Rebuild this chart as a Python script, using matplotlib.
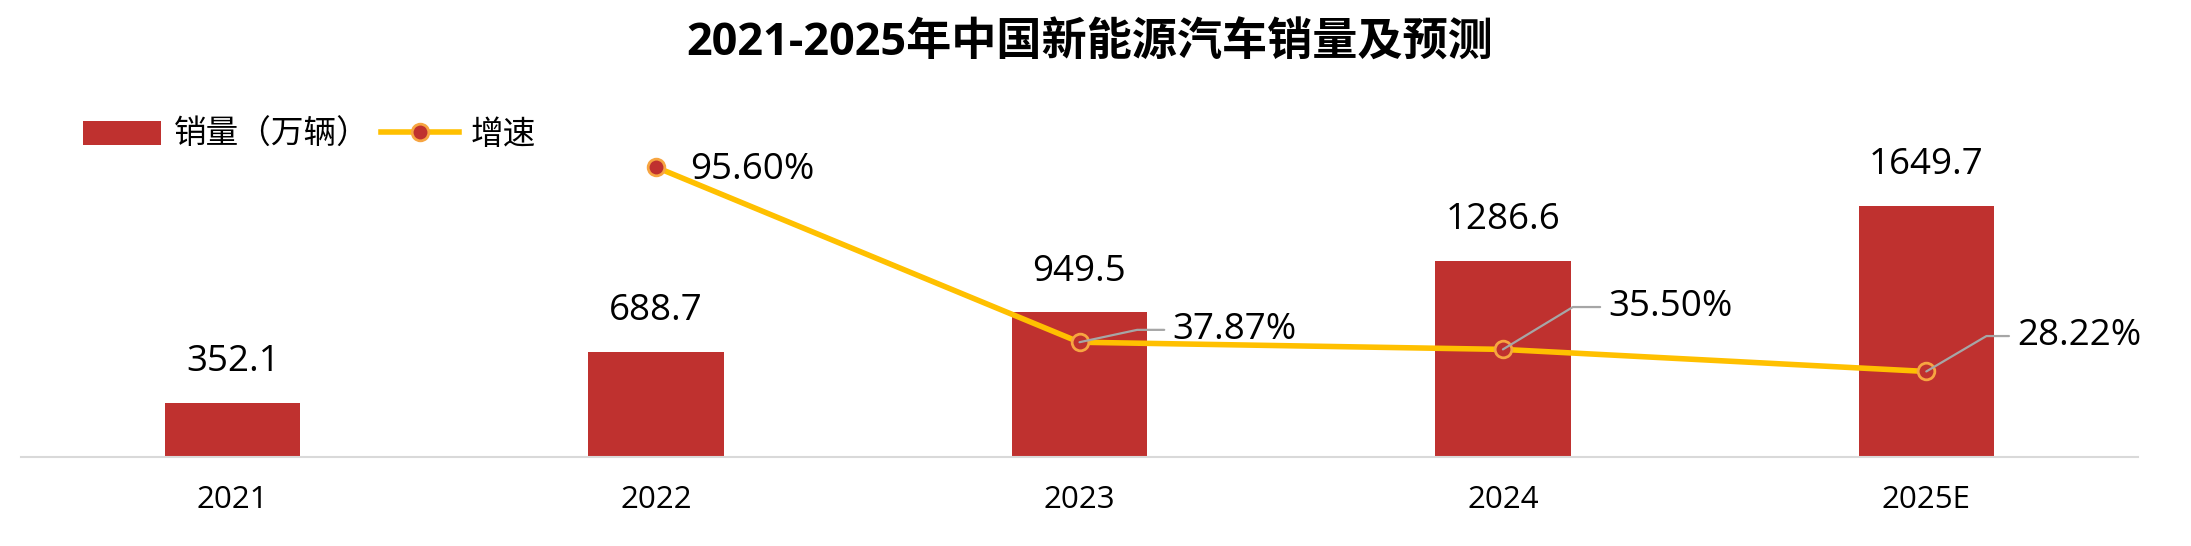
import matplotlib
matplotlib.use('Agg')
import matplotlib.pyplot as plt
import numpy as np
from matplotlib.patches import Patch
from matplotlib.lines import Line2D

plt.rcParams['font.family'] = ['Open Sans', 'Noto Sans CJK SC', 'DejaVu Sans']

# ---- data ----
years = ['2021', '2022', '2023', '2024', '2025E']
sales = [352.1, 688.7, 949.5, 1286.6, 1649.7]
growth = [np.nan, 95.60, 37.87, 35.50, 28.22]
growth_labels = ['', '95.60%', '37.87%', '35.50%', '28.22%']
title = '2021-2025年中国新能源汽车销量及预测'
sales_name = '销量（万辆）'
growth_name = '增速'

# ---- style ----
BAR_COLOR = '#BF312F'
LINE_COLOR = '#FFC000'
EDGE_COLOR = '#F7A541'
LEADER_COLOR = '#A6A6A6'
AXIS_COLOR = '#D9D9D9'

W, H = 2191, 546
fig = plt.figure(figsize=(W / 100, H / 100), dpi=100)
ax_h_px = 357
ax = fig.add_axes([21 / W, 89 / H, (2138 - 21) / W, ax_h_px / H])
x = np.arange(len(years))

ax.bar(x, sales, width=0.32, color=BAR_COLOR, zorder=2)
ax.set_xlim(-0.5, len(years) - 0.5)
ax.set_ylim(0, ax_h_px / 0.1522)
ax.set_xticks(x)
ax.set_xticklabels(years, fontsize=22.5)
ax.tick_params(axis='x', length=0, pad=20)
ax.set_yticks([])
for s in ['top', 'left', 'right']:
    ax.spines[s].set_visible(False)
ax.spines['bottom'].set_color(AXIS_COLOR)
ax.spines['bottom'].set_linewidth(1.5)

for xi, v in zip(x, sales):
    ax.annotate(f'{v:.1f}', (xi, v), xytext=(0, 23), textcoords='offset points',
                ha='center', va='baseline', fontsize=26.5, color='black')

ax2 = ax.twinx()
ax2.set_ylim(0, ax_h_px / 3.031)
ax2.set_yticks([])
for s in ax2.spines.values():
    s.set_visible(False)
ax2.plot(x, growth, color=LINE_COLOR, lw=4, marker='o', ms=12,
         mfc=BAR_COLOR, mec=EDGE_COLOR, mew=2, zorder=3)

# label offsets in points (text left-middle) and leader angle
offsets = [None, (24.5, -1.9, None), (67, 8.9, 12.1), (76, 30.5, 31.2), (65.5, 25.5, 30.5)]
for xi, g, lab, off in zip(x, growth, growth_labels, offsets):
    if off is None or np.isnan(g):
        continue
    dx, dy, ang = off
    if ang is None:
        ax2.annotate(lab, (xi, g), xytext=(dx, dy), textcoords='offset points',
                     ha='left', va='center', fontsize=26.5, zorder=5)
    else:
        ax2.annotate(lab, (xi, g), xytext=(dx, dy), textcoords='offset points',
                     ha='left', va='center', fontsize=26.5, zorder=5,
                     arrowprops=dict(arrowstyle='-', color=LEADER_COLOR, lw=1.6,
                                     relpos=(0, 0.5), shrinkA=4, shrinkB=0,
                                     connectionstyle=f'angle,angleA=0,angleB={ang},rad=0'))

handles = [Patch(facecolor=BAR_COLOR),
           Line2D([], [], color=LINE_COLOR, lw=4, marker='o', ms=12,
                  mfc=BAR_COLOR, mec=EDGE_COLOR, mew=2)]
fig.legend(handles, [sales_name, growth_name], loc='center left',
           bbox_to_anchor=(83 / W, 1 - 135 / H), frameon=False, ncol=2,
           prop={'family': ['Noto Sans CJK SC'], 'size': 23.5},
           handlelength=2.4, handleheight=0.75, handletextpad=0.37,
           columnspacing=0.35, borderpad=0, borderaxespad=0)

fig.text(1090 / W, 1 - 44 / H, title, ha='center', va='center', fontsize=32.5,
         fontweight='bold', family=['Open Sans', 'Noto Sans CJK SC'])

fig.savefig('out.png', dpi=100)
